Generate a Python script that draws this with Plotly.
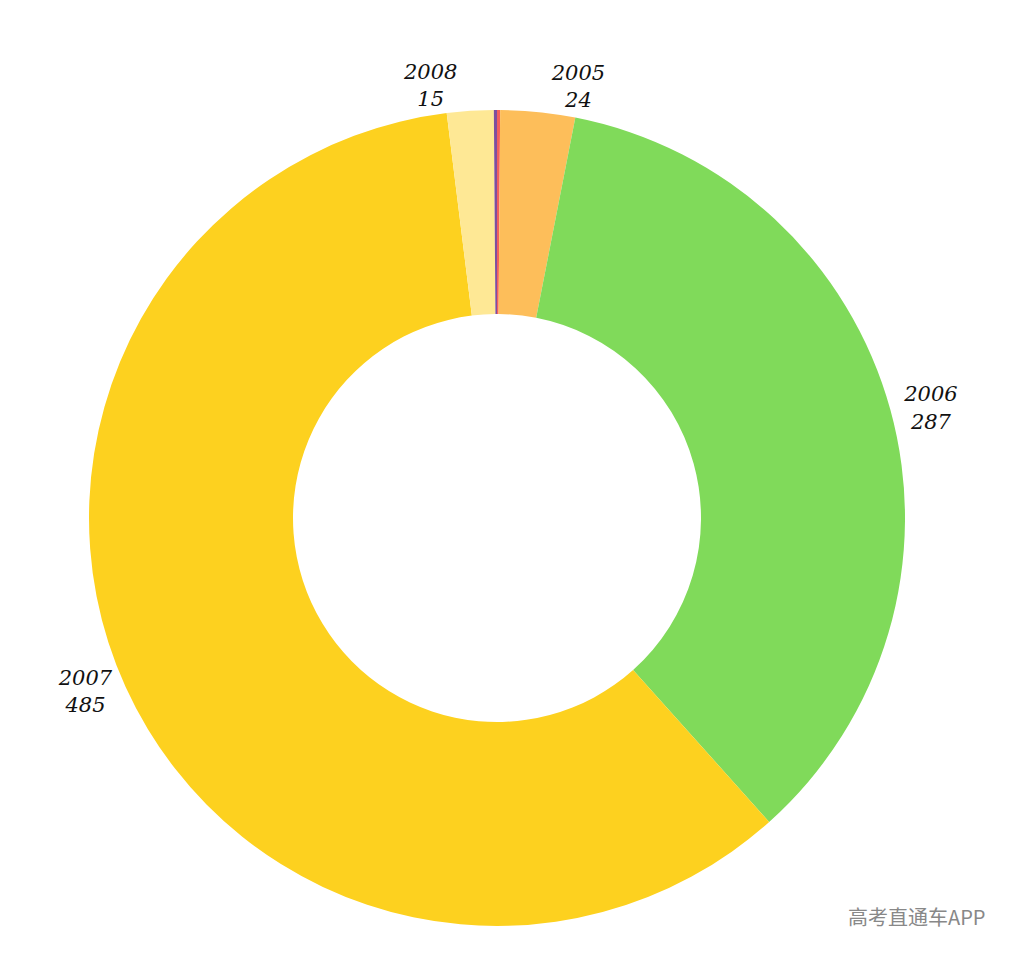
import plotly.graph_objects as go

labels = ["2004", "2005", "2006", "2007", "2008", "2009"]
values = [1, 24, 287, 485, 15, 1]
colors = ["#f25f5c", "#fdbe5a", "#80da5a", "#fdd11f", "#fee895", "#7e4f9e"]
show_label = [False, True, True, True, True, False]

templates = ["%{label}<br>%{value}" if s else "" for s in show_label]

fig = go.Figure(go.Pie(
    labels=labels,
    values=values,
    marker=dict(colors=colors, line=dict(width=0)),
    hole=0.5,
    sort=False,
    direction="clockwise",
    rotation=0,
    textposition="outside",
    texttemplate=templates,
    outsidetextfont=dict(family="DejaVu Serif", size=21, color="#111", style="italic"),
    showlegend=False,
    automargin=False,
))

fig.update_layout(
    width=1018, height=958,
    margin=dict(l=81, r=121, t=102, b=40),
    paper_bgcolor="white",
)
fig.add_annotation(
    text="高考直通车APP", xref="paper", yref="paper", x=1.1, y=0.012,
    xanchor="right", yanchor="middle", showarrow=False,
    font=dict(family="Noto Sans CJK SC", size=20, color="#888888"),
)

fig.write_html("out.html")
